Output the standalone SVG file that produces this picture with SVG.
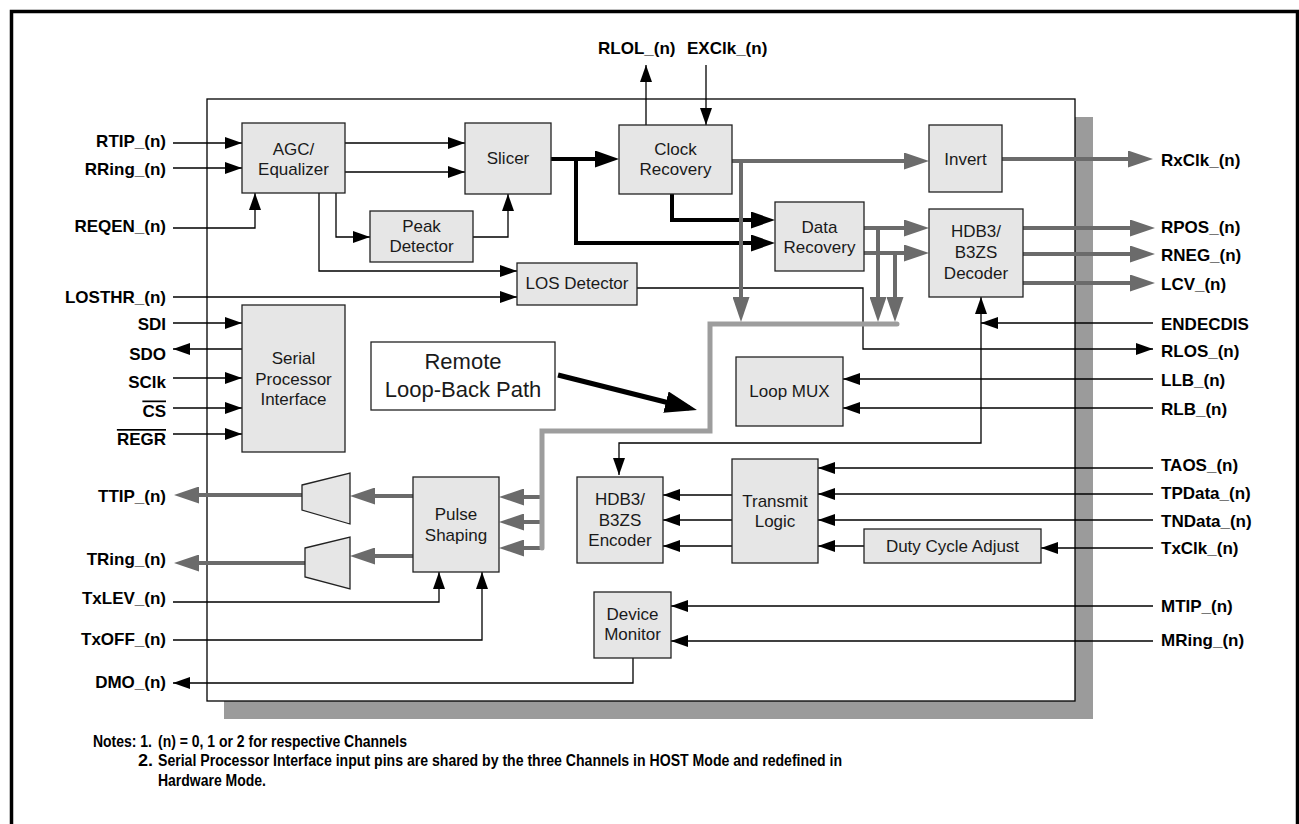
<svg xmlns="http://www.w3.org/2000/svg" width="1299" height="824" viewBox="0 0 1299 824">
<defs>
<style>
text{font-family:"Liberation Sans",Arial,sans-serif;}
.bt{font-size:17px;fill:#1a1a1a;text-anchor:middle;}
.lb{font-size:17px;font-weight:bold;fill:#000;}
.le{text-anchor:end;}
.box{fill:#e6e6e6;stroke:#222;stroke-width:1.3;}
.thin{fill:none;stroke:#000;stroke-width:1.3;marker-end:url(#a);}
.thick{fill:none;stroke:#000;stroke-width:4;marker-end:url(#A);}
.gray{fill:none;stroke:#6b6b6b;stroke-width:4;marker-end:url(#G);}
.note{font-size:16px;font-weight:bold;fill:#000;}
</style>
<marker id="a" viewBox="0 0 17 12" markerWidth="17" markerHeight="12" refX="17" refY="6" orient="auto-start-reverse" markerUnits="userSpaceOnUse"><path d="M0,0 L17,6 L0,12 z" fill="#000"/></marker>
<marker id="A" viewBox="0 0 24 17" markerWidth="24" markerHeight="17" refX="18" refY="8.5" orient="auto" markerUnits="userSpaceOnUse"><path d="M0,0 L24,8.5 L0,17 z" fill="#000"/></marker>
<marker id="G" viewBox="0 0 25 17" markerWidth="25" markerHeight="17" refX="19" refY="8.5" orient="auto" markerUnits="userSpaceOnUse"><path d="M0,0 L25,8.5 L0,17 z" fill="#6b6b6b"/></marker>
<marker id="B" viewBox="0 0 32 22" markerWidth="32" markerHeight="22" refX="24" refY="11" orient="auto" markerUnits="userSpaceOnUse"><path d="M0,0 L32,11 L0,22 z" fill="#000"/></marker>
</defs>
<rect x="0" y="0" width="1299" height="824" fill="#fff"/>
<rect x="11.5" y="11.5" width="1286" height="840" fill="none" stroke="#000" stroke-width="3.5"/>
<rect x="224" y="117" width="869" height="602" fill="#9b9b9b"/>
<rect x="207" y="99" width="868" height="602" fill="#fff" stroke="#000" stroke-width="1.3"/>

<g id="connectors">
<path class="thin" d="M173,143 H242"/>
<path class="thin" d="M173,168 H242"/>
<path class="thin" d="M173,228 H255 V193"/>
<path class="thin" d="M345,143 H465"/>
<path class="thin" d="M345,172 H465"/>
<path class="thin" d="M336,193 V237 H370"/>
<path class="thin" d="M319,193 V271 H517"/>
<path class="thin" d="M473,237 H508 V194"/>
<path class="thin" d="M173,297 H517"/>
<path class="thin" d="M646,125 V65"/>
<path class="thin" d="M706,65 V125"/>
<path class="thin" d="M637,288 H863 V349 H1153"/>
<path class="thin" d="M1153,323 H981"/>
<path class="thin" d="M619,475 V443 H981 V297" marker-start="url(#a)"/>
<path class="thin" d="M173,323 H242"/>
<path class="thin" d="M242,349 H173"/>
<path class="thin" d="M173,378 H242"/>
<path class="thin" d="M173,408 H242"/>
<path class="thin" d="M173,434 H242"/>
<path class="thin" d="M1153,379 H843"/>
<path class="thin" d="M1153,408 H843"/>
<path class="thin" d="M1153,468 H818"/>
<path class="thin" d="M1153,494 H818"/>
<path class="thin" d="M1153,520 H818"/>
<path class="thin" d="M1153,548 H1041"/>
<path class="thin" d="M864,546 H818"/>
<path class="thin" d="M732,495 H663"/>
<path class="thin" d="M732,520 H663"/>
<path class="thin" d="M732,546 H663"/>
<path class="thin" d="M1153,606 H671"/>
<path class="thin" d="M1153,641 H671"/>
<path class="thin" d="M173,602 H439 V572"/>
<path class="thin" d="M173,640 H482 V572"/>
<path class="thin" d="M633,658 V683 H173"/>
<path class="thick" d="M551,159 H613"/>
<path class="thick" d="M576,159 V243 H769"/>
<path class="thick" d="M672,194 V220 H769"/>
<path class="gray" d="M732,161 H923"/>
<path class="gray" d="M1002,159 H1147"/>
<path class="gray" d="M864,228 H923"/>
<path class="gray" d="M864,253 H923"/>
<path class="gray" d="M1023,228 H1149"/>
<path class="gray" d="M1023,254 H1149"/>
<path class="gray" d="M1023,283 H1149"/>
<path class="gray" d="M413,496 H356"/>
<path class="gray" d="M302,495 H180"/>
<path class="gray" d="M413,556 H356"/>
<path class="gray" d="M305,563 H180"/>
<path class="gray" d="M542,497 H505"/>
<path class="gray" d="M542,522 H505"/>
<path class="gray" d="M542,548 H505"/>
<path d="M897,324 H710 V431 H542 V548" fill="none" stroke="#9d9d9d" stroke-width="5" stroke-linecap="round"/>
<path class="gray" d="M741,161 V316"/>
<path class="gray" d="M878,228 V316"/>
<path class="gray" d="M895,253 V316"/>
<path d="M558,375 L689.2,408" fill="none" stroke="#000" stroke-width="5" marker-end="url(#B)"/>
</g>

<g id="agc"><rect class="box" x="242" y="123" width="103" height="70"/><text class="bt" x="293.5" y="155">AGC/</text><text class="bt" x="293.5" y="175">Equalizer</text></g>
<g id="slicer"><rect class="box" x="465" y="123" width="86" height="71"/><text class="bt" x="508" y="164">Slicer</text></g>
<g id="clock-recovery"><rect class="box" x="619" y="125" width="113" height="69"/><text class="bt" x="675.5" y="155">Clock</text><text class="bt" x="675.5" y="175">Recovery</text></g>
<g id="peak-detector"><rect class="box" x="370" y="211" width="103" height="51"/><text class="bt" x="421.5" y="232">Peak</text><text class="bt" x="421.5" y="252">Detector</text></g>
<g id="los-detector"><rect class="box" x="517" y="263" width="120" height="42"/><text class="bt" x="577" y="289">LOS Detector</text></g>
<g id="data-recovery"><rect class="box" x="775" y="202" width="89" height="69"/><text class="bt" x="819.5" y="232.5">Data</text><text class="bt" x="819.5" y="252.5">Recovery</text></g>
<g id="invert"><rect class="box" x="929" y="125" width="73" height="67"/><text class="bt" x="965.5" y="165">Invert</text></g>
<g id="decoder"><rect class="box" x="929" y="209" width="94" height="88"/><text class="bt" x="976" y="237">HDB3/</text><text class="bt" x="976" y="258">B3ZS</text><text class="bt" x="976" y="279">Decoder</text></g>
<g id="spi"><rect class="box" x="242" y="305" width="103" height="147"/><text class="bt" x="293.5" y="364">Serial</text><text class="bt" x="293.5" y="384.5">Processor</text><text class="bt" x="293.5" y="405">Interface</text></g>
<g id="remote-loopback"><rect x="371" y="342" width="184" height="68" fill="#fff" stroke="#222" stroke-width="1.3"/><text class="bt" x="463" y="369" style="font-size:22px">Remote</text><text class="bt" x="463" y="397" style="font-size:22px">Loop-Back Path</text></g>
<g id="loop-mux"><rect class="box" x="736" y="357" width="107" height="69"/><text class="bt" x="789.5" y="397">Loop MUX</text></g>
<g id="pulse-shaping"><rect class="box" x="413" y="477" width="86" height="95"/><text class="bt" x="456" y="520">Pulse</text><text class="bt" x="456" y="540.5">Shaping</text></g>
<g id="encoder"><rect class="box" x="577" y="477" width="86" height="86"/><text class="bt" x="620" y="505">HDB3/</text><text class="bt" x="620" y="526">B3ZS</text><text class="bt" x="620" y="546">Encoder</text></g>
<g id="transmit-logic"><rect class="box" x="732" y="459" width="86" height="104"/><text class="bt" x="775" y="507">Transmit</text><text class="bt" x="775" y="527">Logic</text></g>
<g id="duty-cycle"><rect class="box" x="864" y="529" width="177" height="34"/><text class="bt" x="952.5" y="552">Duty Cycle Adjust</text></g>
<g id="device-monitor"><rect class="box" x="594" y="592" width="77" height="66"/><text class="bt" x="632.5" y="620">Device</text><text class="bt" x="632.5" y="640">Monitor</text></g>
<g id="driver-ttip"><polygon class="box" points="302,485 350,473 350,524 302,510"/></g>
<g id="driver-tring"><polygon class="box" points="305,548 350,537 350,589 305,577"/></g>

<g id="labels">
<text class="lb le" x="166" y="147">RTIP_(n)</text>
<text class="lb le" x="166" y="175">RRing_(n)</text>
<text class="lb le" x="166" y="232">REQEN_(n)</text>
<text class="lb le" x="166" y="302.5">LOSTHR_(n)</text>
<text class="lb le" x="166" y="330">SDI</text>
<text class="lb le" x="166" y="360">SDO</text>
<text class="lb le" x="166" y="388">SClk</text>
<text class="lb le" x="166" y="416.5" text-decoration="overline">CS</text>
<text class="lb le" x="166" y="445" text-decoration="overline">REGR</text>
<text class="lb le" x="166" y="501.5">TTIP_(n)</text>
<text class="lb le" x="166" y="565">TRing_(n)</text>
<text class="lb le" x="166" y="604">TxLEV_(n)</text>
<text class="lb le" x="166" y="645">TxOFF_(n)</text>
<text class="lb le" x="166" y="687.5">DMO_(n)</text>
<text class="lb" x="598" y="54">RLOL_(n)</text>
<text class="lb" x="687" y="54">EXClk_(n)</text>
<text class="lb" x="1161" y="166">RxClk_(n)</text>
<text class="lb" x="1161" y="233">RPOS_(n)</text>
<text class="lb" x="1161" y="261">RNEG_(n)</text>
<text class="lb" x="1161" y="290">LCV_(n)</text>
<text class="lb" x="1161" y="330">ENDECDIS</text>
<text class="lb" x="1161" y="356.5">RLOS_(n)</text>
<text class="lb" x="1161" y="386">LLB_(n)</text>
<text class="lb" x="1161" y="415">RLB_(n)</text>
<text class="lb" x="1161" y="471">TAOS_(n)</text>
<text class="lb" x="1161" y="499">TPData_(n)</text>
<text class="lb" x="1161" y="526.5">TNData_(n)</text>
<text class="lb" x="1161" y="554">TxClk_(n)</text>
<text class="lb" x="1161" y="611.5">MTIP_(n)</text>
<text class="lb" x="1161" y="646">MRing_(n)</text>
</g>

<g id="notes">
<text class="note" x="93" y="747" textLength="59" lengthAdjust="spacingAndGlyphs">Notes: 1.</text>
<text class="note" x="158" y="747" textLength="249" lengthAdjust="spacingAndGlyphs">(n) = 0, 1 or 2 for respective Channels</text>
<text class="note" x="138" y="766" textLength="15" lengthAdjust="spacingAndGlyphs">2.</text>
<text class="note" x="158" y="766" textLength="684" lengthAdjust="spacingAndGlyphs">Serial Processor Interface input pins are shared by the three Channels in HOST Mode and redefined in</text>
<text class="note" x="158" y="786" textLength="108" lengthAdjust="spacingAndGlyphs">Hardware Mode.</text>
</g>
</svg>
